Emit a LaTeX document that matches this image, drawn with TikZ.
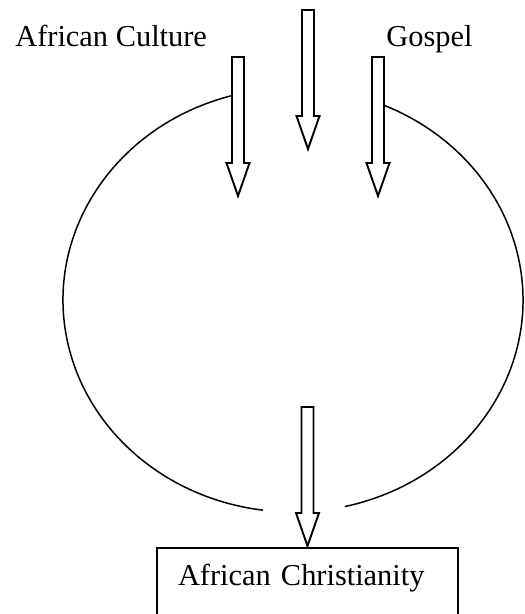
\documentclass[tikz,border=0pt]{standalone}
\usepackage{fontspec}
\setmainfont{Liberation Serif}
\usepackage{tikz}
\usetikzlibrary{calc}

\begin{document}
\begin{tikzpicture}[
    x=0.02cm, y=-0.02cm,
    lbl/.style={font=\fontsize{17.3}{20}\selectfont, inner sep=0pt},
    rim/.style={line width=0.85pt},
    box/.style={draw, line width=1.1pt, anchor=north, minimum width=6.02cm, inner xsep=0.42cm, inner ysep=0.34cm,
        text width=5.18cm, align=left, text height=0.42cm, text depth=1cm, font=\fontsize{17.3}{20}\selectfont},
    pics/hollowarrow/.style={code={
        \draw[line width=1.1pt, fill=white] (-6,0) -- (-6,106) -- (-11.5,106) -- (0,139) -- (11.5,106) -- (6,106) -- (6,0) -- cycle;
    }},
]
    \clip (0,0) rectangle (524,614);
    \coordinate (centre) at (293,300);
    \node[lbl, anchor=base west] (culture) at (15,47) {African Culture};
    \node[lbl, anchor=base west] (gospel) at (386,47) {Gospel};
    \node[box] (result) at (307.5,547) {African Christianity};
    % the two halves of the ring
    \draw[rim] ([shift={(255:230 and 212)}]centre) arc[start angle=255, end angle=97.5, x radius=230, y radius=212];
    \draw[rim] ([shift={(77:230 and 212)}]centre) arc[start angle=77, end angle=-68, x radius=230, y radius=212];
    % arrows
    \pic at (238,57) {hollowarrow};
    \pic at (308,10) {hollowarrow};
    \pic at (378,57) {hollowarrow};
    \pic at ($(result.north)+(0,-140)$) {hollowarrow};
\end{tikzpicture}
\end{document}
